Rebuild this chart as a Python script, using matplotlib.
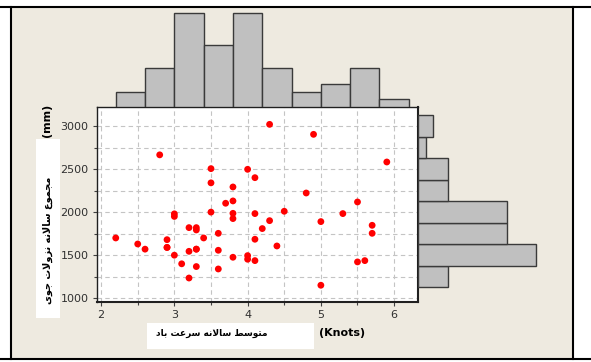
import numpy as np
import matplotlib.pyplot as plt
from matplotlib.lines import Line2D
from matplotlib.patches import Rectangle

# wind speed (Knots) and annual precipitation (mm)
wind = [2.2, 2.5, 2.6, 2.8, 2.9, 2.9, 2.9, 3.0, 3.0, 3.0, 3.1, 3.2, 3.2, 3.2,
        3.3, 3.3, 3.3, 3.3, 3.3, 3.4, 3.5, 3.5, 3.5, 3.6, 3.6, 3.6, 3.7,
        3.8, 3.8, 3.8, 3.8, 3.8, 4.0, 4.0, 4.0, 4.1, 4.1, 4.1, 4.1, 4.2,
        4.3, 4.3, 4.4, 4.5, 4.8, 4.9, 5.0, 5.0, 5.3, 5.5, 5.5, 5.6, 5.7,
        5.7, 5.9]
rain = [1700, 1630, 1570, 2665, 1680, 1590, 1590, 1980, 1950, 1500, 1400, 1820,
        1545, 1235, 1820, 1793, 1570, 1570, 1368, 1700, 2505, 2340, 2000, 1754,
        1557, 1340, 2103, 2292, 2130, 1986, 1925, 1476, 2497, 1495, 1453, 2400,
        1983, 1685, 1437, 1809, 3019, 1901, 1607, 2010, 2222, 2903, 1890, 1151,
        1983, 2118, 1422, 1437, 1847, 1754, 2582]

x_bins = [2.2, 2.6, 3.0, 3.4, 3.8, 4.2, 4.6, 5.0, 5.4, 5.8, 6.2]
y_bins = [1125, 1375, 1625, 1875, 2125, 2375, 2625, 2875, 3125]

x_ticks = [2, 3, 4, 5, 6]
y_ticks = [1000, 1500, 2000, 2500, 3000]

y_label_fa = 'مجموع سالانه نزولات جوی'
x_label_fa = 'متوسط سالانه سرعت باد'

# minimal Arabic-script shaping (matplotlib has no text shaping)
FORMS = {
    'ا': ('\uFE8D', '\uFE8E', None, None),
    'ب': ('\uFE8F', '\uFE90', '\uFE91', '\uFE92'),
    'ت': ('\uFE95', '\uFE96', '\uFE97', '\uFE98'),
    'ج': ('\uFE9D', '\uFE9E', '\uFE9F', '\uFEA0'),
    'د': ('\uFEA9', '\uFEAA', None, None),
    'ر': ('\uFEAD', '\uFEAE', None, None),
    'ز': ('\uFEAF', '\uFEB0', None, None),
    'س': ('\uFEB1', '\uFEB2', '\uFEB3', '\uFEB4'),
    'ط': ('\uFEC1', '\uFEC2', '\uFEC3', '\uFEC4'),
    'ع': ('\uFEC9', '\uFECA', '\uFECB', '\uFECC'),
    'ل': ('\uFEDD', '\uFEDE', '\uFEDF', '\uFEE0'),
    'م': ('\uFEE1', '\uFEE2', '\uFEE3', '\uFEE4'),
    'ن': ('\uFEE5', '\uFEE6', '\uFEE7', '\uFEE8'),
    'ه': ('\uFEE9', '\uFEEA', '\uFEEB', '\uFEEC'),
    'و': ('\uFEED', '\uFEEE', None, None),
    'ی': ('\uFBFC', '\uFBFD', '\uFBFE', '\uFBFF'),
}


def dual(c):
    return c in FORMS and FORMS[c][2] is not None


def shape(s):
    out = []
    i = 0
    while i < len(s):
        c = s[i]
        if c not in FORMS:
            out.append(c)
            i += 1
            continue
        prev = s[i - 1] if i > 0 else ' '
        join_prev = dual(prev)
        if c == 'ل' and i + 1 < len(s) and s[i + 1] == 'ا':
            out.append('\uFEFC' if join_prev else '\uFEFB')
            i += 2
            continue
        nxt = s[i + 1] if i + 1 < len(s) else ' '
        join_next = dual(c) and nxt in FORMS
        iso, fin, ini, med = FORMS[c]
        if join_prev and join_next:
            out.append(med)
        elif join_prev:
            out.append(fin)
        elif join_next:
            out.append(ini)
        else:
            out.append(iso)
        i += 1
    return ''.join(out)[::-1]


W, H = 591, 362
fig = plt.figure(figsize=(W / 100, H / 100), dpi=100)
fig.patch.set_facecolor('white')

beige = '#EEEAE0'
fig.add_artist(Rectangle((10.5 / W, 1 - 359 / H), (573 - 10.5) / W, (359 - 6.5) / H,
                         transform=fig.transFigure, facecolor=beige, edgecolor='none', zorder=-5))
for y in (6.5, 359):
    fig.add_artist(Line2D([0, 1], [1 - y / H, 1 - y / H], color='black', lw=1.5))
for x in (10.5, 573):
    fig.add_artist(Line2D([x / W, x / W], [1 - 359 / H, 1 - 6.5 / H], color='black', lw=1.5))

# main scatter
ax = fig.add_axes([96.7 / W, 1 - 301.7 / H, 321.6 / W, 194.4 / H])
ax.set_facecolor('white')
ax.scatter(wind, rain, s=24, color='#FF0000', edgecolors='none', zorder=3)
ax.set_xticks(x_ticks)
ax.set_yticks(y_ticks)
ax.set_xticks(np.arange(2.5, 6.5, 1.0), minor=True)
ax.set_yticks(np.arange(1250, 3250, 500), minor=True)
ax.grid(True, which='both', color='#C4C4C4', ls=(0, (4, 3)), lw=0.8)
ax.set_axisbelow(True)
ax.tick_params(which='major', length=3, width=0.8, color='#404040', labelsize=8,
               labelcolor='#303030', pad=3)
ax.tick_params(which='minor', length=2, width=0.8, color='#404040')
for side, sp in ax.spines.items():
    sp.set_color('#202020')
    sp.set_linewidth(1.5 if side in ('right', 'bottom') else 1.0)

# top histogram
axt = fig.add_axes([96.7 / W, 1 - 107.3 / H, 321.6 / W, 100.3 / H], sharex=ax)
axt.hist(wind, bins=x_bins, color='#C0C0C0', edgecolor='#3A3A3A', linewidth=1.0)
axt.set_ylim(0, 12.8)
axt.axis('off')

# right histogram
axr = fig.add_axes([418.3 / W, 1 - 301.7 / H, 153.7 / W, 194.4 / H], sharey=ax)
axr.hist(rain, bins=y_bins, orientation='horizontal', color='#C0C0C0',
         edgecolor='#3A3A3A', linewidth=1.0)
axr.set_xlim(0, 20.9)
axr.axis('off')
ax.set_xlim(1.94, 6.33)
ax.set_ylim(960, 3217)

# axis labels with white boxes
fig.add_artist(Rectangle((36 / W, 1 - 318 / H), 24 / W, 179 / H, transform=fig.transFigure,
                         facecolor='white', edgecolor='none'))
fig.text(48 / W, 1 - 240 / H, shape(y_label_fa), rotation=90, ha='center', va='center',
         fontsize=7, fontweight='bold', family='DejaVu Sans')
fig.text(47 / W, 1 - 120 / H, '(mm)', rotation=90, ha='center', va='center',
         fontsize=8, fontweight='bold')

fig.add_artist(Rectangle((147.3 / W, 1 - 349.3 / H), 166.7 / W, 26.6 / H, transform=fig.transFigure,
                         facecolor='white', edgecolor='none'))
fig.text(212 / W, 1 - 333 / H, shape(x_label_fa), ha='center', va='center',
         fontsize=6.5, fontweight='bold', family='DejaVu Sans')
fig.text(342 / W, 1 - 333 / H, '(Knots)', ha='center', va='center',
         fontsize=8, fontweight='bold')

fig.savefig('out.png', dpi=100)
